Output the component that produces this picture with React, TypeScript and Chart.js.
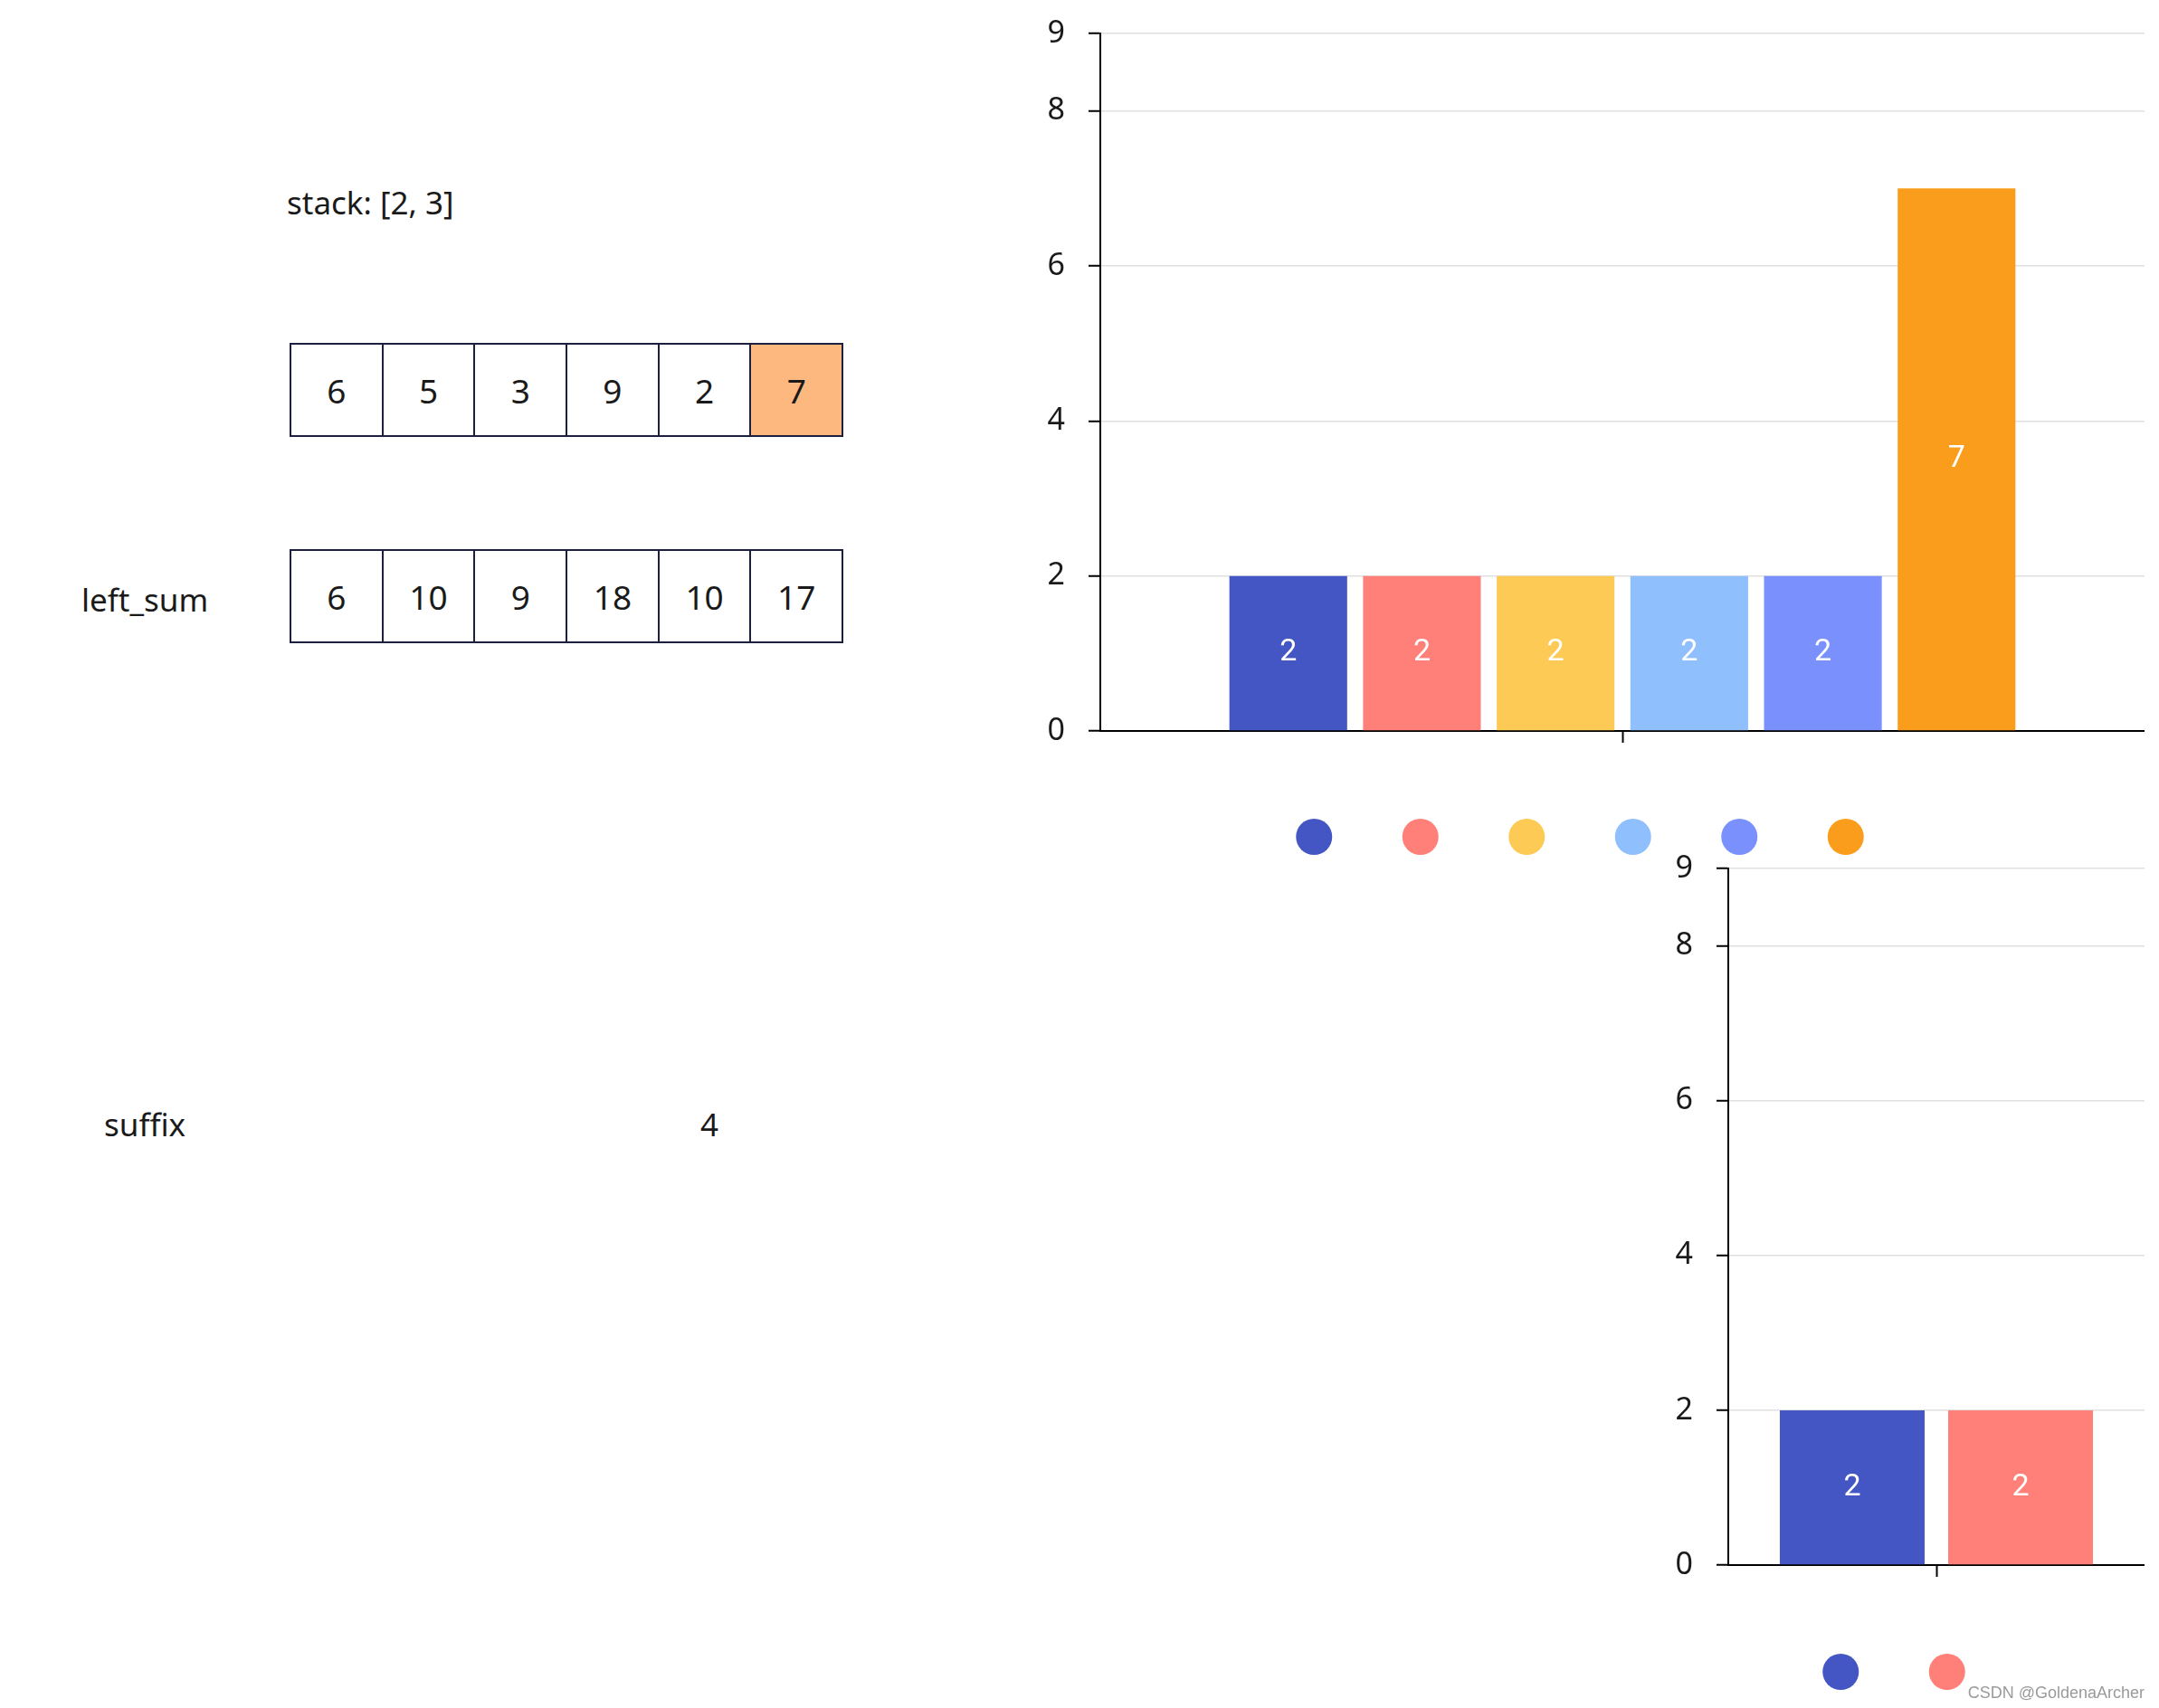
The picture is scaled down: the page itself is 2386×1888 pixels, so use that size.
import React, { useEffect, useRef } from "react";
import { Chart, registerables } from "chart.js";

Chart.register(...registerables);

// ---- data ----
const nums = [6, 5, 3, 9, 2, 7];
const leftSum = [6, 10, 9, 18, 10, 17];
const highlightIndex = 5;
const stackValues = [2, 3];
const suffixValue = 4;

const categories = [""];
const topValues = [2, 2, 2, 2, 2, 7];
const topColors = ["#4356C4", "#FF7F79", "#FDCB55", "#8FBFFD", "#7990FD", "#FB9D1C"];
const bottomValues = [2, 2];
const bottomColors = ["#4356C4", "#FF7F79"];
const yTicks = [0, 2, 4, 6, 8, 9];
const yMax = 9;

// ---- plugins ----
const barLabelPlugin = {
  id: "barLabels",
  afterDatasetsDraw(chart: any) {
    const ctx = chart.ctx;
    ctx.save();
    ctx.fillStyle = "#ffffff";
    ctx.font = "34px Roboto";
    ctx.textAlign = "center";
    ctx.textBaseline = "middle";
    chart.data.datasets.forEach((ds: any, i: number) => {
      const meta = chart.getDatasetMeta(i);
      meta.data.forEach((el: any, j: number) => {
        const p = el.getProps(["x", "y", "base"], true);
        ctx.fillText(String(ds.data[j]), p.x, (p.y + p.base) / 2);
      });
    });
    ctx.restore();
  },
};

const dotLegendPlugin = {
  id: "dotLegend",
  afterDraw(chart: any, _args: any, opts: any) {
    const { ctx, chartArea } = chart;
    const n = chart.data.datasets.length;
    const cx = chart.width / 2;
    const y = chartArea.bottom + opts.offset;
    ctx.save();
    chart.data.datasets.forEach((ds: any, i: number) => {
      const x = cx + (i - (n - 1) / 2) * opts.spacing;
      ctx.beginPath();
      ctx.arc(x, y, opts.radius, 0, Math.PI * 2);
      ctx.fillStyle = ds.backgroundColor;
      ctx.fill();
    });
    ctx.restore();
  },
};

type BarProps = {
  values: number[];
  colors: string[];
  left: number;
  top: number;
  width: number;
  height: number;
  padTop: number;
  padBottom: number;
  catPct: number;
  barPct: number;
  legendOffset: number;
};

function BarChart(props: BarProps) {
  const ref = useRef<HTMLCanvasElement | null>(null);
  useEffect(() => {
    if (!ref.current) return;
    const chart = new Chart(ref.current, {
      type: "bar",
      data: {
        labels: categories,
        datasets: props.values.map((v, i) => ({
          label: "s" + i,
          data: [v],
          backgroundColor: props.colors[i],
          borderWidth: 0,
          categoryPercentage: props.catPct,
          barPercentage: props.barPct,
        })),
      },
      options: {
        responsive: false,
        animation: false,
        devicePixelRatio: 1,
        layout: { padding: { top: props.padTop, left: 0, right: 0, bottom: props.padBottom } },
        plugins: {
          legend: { display: false },
          tooltip: { enabled: false },
          dotLegend: { offset: props.legendOffset, spacing: 117.5, radius: 20 },
        } as any,
        scales: {
          x: {
            type: "category",
            offset: true,
            grid: {
              display: true,
              drawOnChartArea: false,
              offset: false,
              tickLength: 13,
              tickColor: "#000",
              tickWidth: 2,
            },
            border: { display: true, color: "#000", width: 2 },
            ticks: { display: false },
            afterFit: (s: any) => {
              s.height = 13;
              s.paddingLeft = 0;
              s.paddingRight = 0;
            },
          },
          y: {
            min: 0,
            max: yMax,
            afterBuildTicks: (s: any) => {
              s.ticks = yTicks.map((v) => ({ value: v }));
            },
            grid: {
              color: "#e0e0e0",
              lineWidth: 1.5,
              tickLength: 13,
              tickColor: "#000",
              tickWidth: 2,
            },
            border: { display: true, color: "#000", width: 2 },
            ticks: {
              padding: 26,
              color: "#1a1a1a",
              font: { family: "Noto Sans", size: 34 },
            },
            afterFit: (s: any) => {
              s.width = 94;
              s.paddingTop = 0;
              s.paddingBottom = 0;
            },
          },
        },
      } as any,
      plugins: [barLabelPlugin, dotLegendPlugin],
    });
    return () => chart.destroy();
  }, []);
  return (
    <canvas
      ref={ref}
      width={props.width}
      height={props.height}
      style={{
        position: "absolute",
        left: props.left,
        top: props.top,
        width: props.width,
        height: props.height,
      }}
    />
  );
}

const textFont = "'Noto Sans', sans-serif";

function CellRow({ values, top, highlight }: { values: number[]; top: number; highlight: number }) {
  return (
    <div style={{ position: "absolute", left: 320, top, display: "flex" }}>
      {values.map((v, i) => (
        <div
          key={i}
          style={{
            width: 103.7,
            height: 104,
            boxSizing: "border-box",
            border: "2px solid #1c1f3e",
            marginLeft: i === 0 ? 0 : -2,
            background: i === highlight ? "#FDB880" : "#fff",
            display: "flex",
            alignItems: "center",
            justifyContent: "center",
            fontFamily: textFont,
            fontSize: 37,
            color: "#1a1a1a",
          }}
        >
          {v}
        </div>
      ))}
    </div>
  );
}

function Label({ text, left, cy, width }: { text: string; left: number; cy: number; width?: number }) {
  return (
    <div
      style={{
        position: "absolute",
        left,
        top: cy - 25,
        height: 50,
        lineHeight: "50px",
        width: width,
        textAlign: width ? "center" : "left",
        fontFamily: textFont,
        fontSize: 35,
        color: "#1a1a1a",
        whiteSpace: "nowrap",
      }}
    >
      {text}
    </div>
  );
}

export default function App() {
  return (
    <div style={{ position: "absolute", left: 0, top: 0, width: 2386, height: 1888, background: "#fff", overflow: "hidden" }}>
      <Label text={"stack: [" + stackValues.join(", ") + "]"} left={317} cy={224} />
      <CellRow values={nums} top={379} highlight={highlightIndex} />
      <Label text="left_sum" left={90} cy={663} />
      <CellRow values={leftSum} top={607} highlight={-1} />
      <Label text="suffix" left={115} cy={1243} />
      <Label text={String(suffixValue)} left={754} cy={1243} width={60} />

      <BarChart
        values={topValues}
        colors={topColors}
        left={1122}
        top={0}
        width={1248}
        height={960}
        padTop={37}
        padBottom={139}
        catPct={0.768}
        barPct={0.881}
        legendOffset={117}
      />
      <BarChart
        values={bottomValues}
        colors={bottomColors}
        left={1816}
        top={930}
        width={554}
        height={950}
        padTop={30}
        padBottom={137}
        catPct={0.809}
        barPct={0.86}
        legendOffset={118}
      />
      <div
        style={{
          position: "absolute",
          left: 2100,
          width: 270,
          top: 1860,
          lineHeight: "22px",
          textAlign: "right",
          fontFamily: "'Liberation Sans', Arial, sans-serif",
          fontSize: 18,
          color: "#9a9a9a",
        }}
      >
        CSDN @GoldenaArcher
      </div>
    </div>
  );
}
